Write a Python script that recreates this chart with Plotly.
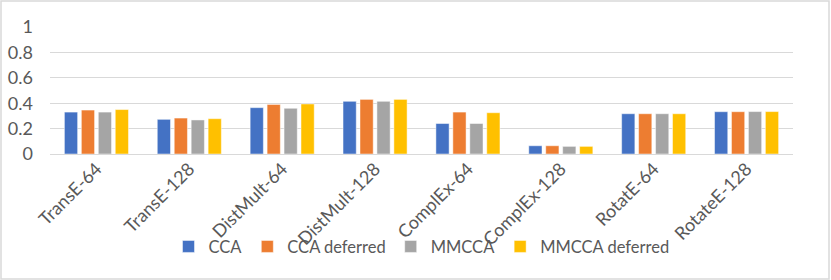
import plotly.graph_objects as go

categories = ["TransE-64", "TransE-128", "DistMult-64", "DistMult-128",
              "ComplEx-64", "ComplEx-128", "RotatE-64", "RotateE-128"]
cca = [0.33, 0.273, 0.365, 0.415, 0.24, 0.065, 0.317, 0.333]
cca_deferred = [0.346, 0.283, 0.39, 0.43, 0.33, 0.065, 0.317, 0.333]
mmcca = [0.33, 0.268, 0.36, 0.415, 0.24, 0.06, 0.317, 0.334]
mmcca_deferred = [0.35, 0.278, 0.394, 0.43, 0.325, 0.06, 0.317, 0.334]

series = [
    ("CCA", cca, "#4472C4"),
    ("CCA deferred", cca_deferred, "#ED7D31"),
    ("MMCCA", mmcca, "#A5A5A5"),
    ("MMCCA deferred", mmcca_deferred, "#FFC000"),
]

FONT = "Lato"
GREY = "#595959"
fig = go.Figure()
for name, vals, col in series:
    fig.add_trace(go.Bar(x=categories, y=vals, name=name,
                         marker=dict(color=col, line=dict(color="rgba(255,255,255,0.6)", width=0.8))))

fig.update_layout(
    width=831, height=280,
    margin=dict(l=50, r=38, t=27, b=126, autoexpand=False),
    paper_bgcolor="white", plot_bgcolor="white",
    barmode="group", bargap=0.27, bargroupgap=0.22,
    font=dict(family=FONT, size=18, color=GREY),
    showlegend=True,
    legend=dict(orientation="h", x=0.5, xanchor="center", y=-0.73, yanchor="middle",
                font=dict(size=16.5, color=GREY), bgcolor="rgba(0,0,0,0)",
                itemwidth=30, tracegroupgap=0),
    shapes=[dict(type="rect", xref="paper", yref="paper", x0=-49/743, x1=1+36/743,
                 y0=-125/127, y1=1+26/127, line=dict(color="#D9D9D9", width=1.5))],
)
fig.update_yaxes(range=[0, 1.0], dtick=0.2, showgrid=True, gridcolor="#D9D9D9", gridwidth=1,
                 zeroline=True, zerolinecolor="#D9D9D9", zerolinewidth=1,
                 showline=False, ticks="", ticklabelstandoff=16, automargin=False,
                 tickfont=dict(size=18, color=GREY))
fig.update_xaxes(tickangle=-45, showline=False, ticks="", automargin=False,
                 tickfont=dict(size=18, color=GREY))

fig.write_html("out.html", config={"displayModeBar": False},
               post_script="document.body.style.margin='0';")
